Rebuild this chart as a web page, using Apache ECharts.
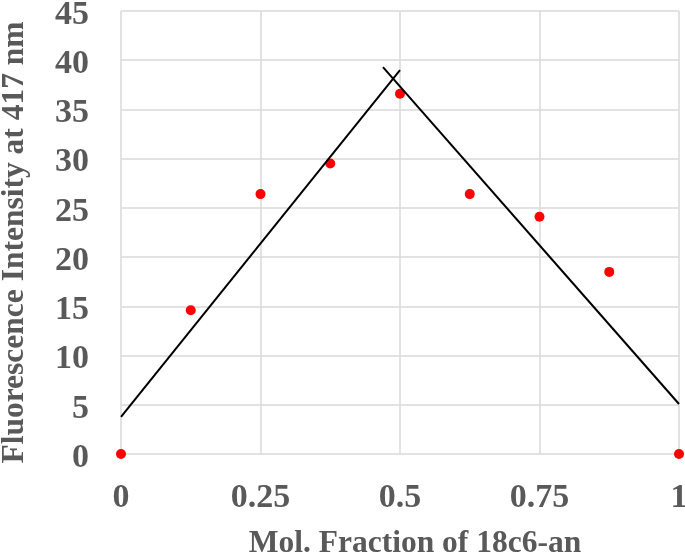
<!DOCTYPE html>
<html>
<head>
<meta charset="utf-8">
<script src="https://cdn.jsdelivr.net/npm/echarts@6/dist/echarts.min.js"></script>
<style>html,body{margin:0;padding:0;background:#fff}#c{width:685px;height:554px}</style>
</head>
<body>
<div id="c"></div>
<script>
var moleFraction = [0, 0.125, 0.25, 0.375, 0.5, 0.625, 0.75, 0.875, 1];
var intensity = [0, 14.6, 26.4, 29.5, 36.6, 26.4, 24.1, 18.5, 0];
var leftFitX = [0, 0.5];
var leftFitY = [3.76, 39.0];
var rightFitX = [0.4695, 1];
var rightFitY = [39.3, 5.08];
var xTicks = [0, 0.25, 0.5, 0.75, 1];
var yTicks = [0, 5, 10, 15, 20, 25, 30, 35, 40, 45];

var font = '"Liberation Serif","Times New Roman",serif';
var gray = '#595959';
function zip(a, b) { return a.map(function (v, i) { return [v, b[i]]; }); }

var chart = echarts.init(document.getElementById('c'));
chart.setOption({
  animation: false,
  grid: { left: 121, right: 6, top: 11, bottom: 100, containLabel: false, outerBoundsMode: 'none' },
  xAxis: {
    type: 'value', min: xTicks[0], max: xTicks[xTicks.length - 1], interval: 0.25,
    name: 'Mol. Fraction of 18c6-an', nameLocation: 'middle', nameGap: 74,
    nameTextStyle: { fontFamily: font, fontWeight: 'bold', fontSize: 31.5, color: gray, padding: [0, 0, 0, 30] },
    axisLine: { show: false }, axisTick: { show: false },
    axisLabel: { fontFamily: font, fontWeight: 'bold', fontSize: 34, color: gray, margin: 27,
      formatter: function (v) { return String(+v.toFixed(2)); } },
    splitLine: { show: true, lineStyle: { color: '#d9d9d9', width: 1.5 } }
  },
  yAxis: {
    type: 'value', min: yTicks[0], max: yTicks[yTicks.length - 1], interval: 5,
    name: 'Fluorescence Intensity at 417 nm', nameLocation: 'middle', nameGap: 90,
    nameTextStyle: { fontFamily: font, fontWeight: 'bold', fontSize: 31.5, color: gray, padding: [0, 20, 0, 0] },
    axisLine: { show: false }, axisTick: { show: false },
    axisLabel: { fontFamily: font, fontWeight: 'bold', fontSize: 34, color: gray, margin: 32,
      formatter: function (v) { return '{v|' + v + '}'; },
      rich: { v: { fontFamily: font, fontWeight: 'bold', fontSize: 34, color: gray, padding: [8, 0, 0, 0] } } },
    splitLine: { show: true, lineStyle: { color: '#d9d9d9', width: 1.5 } }
  },
  series: [
    { type: 'line', data: zip(leftFitX, leftFitY), symbol: 'none', clip: false,
      lineStyle: { color: '#000', width: 2 } },
    { type: 'line', data: zip(rightFitX, rightFitY), symbol: 'none', clip: false,
      lineStyle: { color: '#000', width: 2 } },
    { type: 'scatter', data: zip(moleFraction, intensity), symbolSize: 10, clip: false,
      itemStyle: { color: '#ff0000', opacity: 1 } }
  ]
});
</script>
</body>
</html>
